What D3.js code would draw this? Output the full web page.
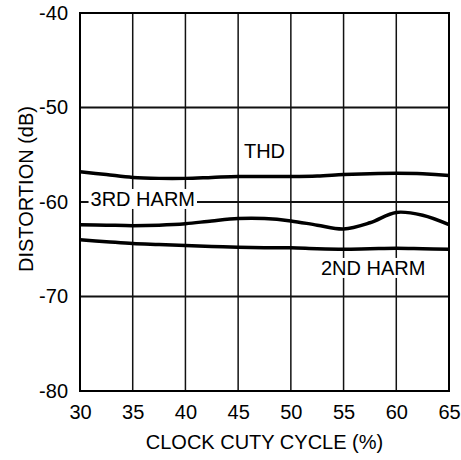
<!DOCTYPE html>
<html><head><meta charset="utf-8">
<script src="https://cdn.jsdelivr.net/npm/d3@7"></script>
<style>body{margin:0;background:#fff}svg{display:block}text{font-family:"Liberation Sans",Arial,sans-serif;fill:#000}</style>
</head><body>
<svg id="c" width="461" height="460"></svg>
<script>
const dutyCycle = [30, 32.5, 35, 37.5, 40, 42.5, 45, 47.5, 50, 52.5, 55, 57.5, 60, 62.5, 65];
const thd = [-56.8, -57.1, -57.4, -57.5, -57.5, -57.4, -57.3, -57.3, -57.3, -57.25, -57.1, -57.0, -56.95, -57.0, -57.2];
const harm3 = [-62.4, -62.45, -62.5, -62.45, -62.3, -62.0, -61.75, -61.75, -62.0, -62.45, -62.85, -62.2, -61.1, -61.4, -62.4];
const harm2 = [-64.0, -64.2, -64.4, -64.5, -64.6, -64.7, -64.8, -64.85, -64.85, -64.95, -65.0, -64.95, -64.9, -64.95, -65.0];
const xTicks = [30, 35, 40, 45, 50, 55, 60, 65];
const yTicks = [-40, -50, -60, -70, -80];
const labels = [
  {text: "THD", x: 45.55, y: -55.35},
  {text: "3RD HARM", x: 31.0, y: -60.42},
  {text: "2ND HARM", x: 52.85, y: -67.72}
];
const xTitle = "CLOCK CUTY CYCLE (%)";
const yTitle = "DISTORTION (dB)";

const svg = d3.select("#c");
const L = 80, R = 449, T = 13, B = 391;
const x = d3.scaleLinear().domain([30, 65]).range([L, R]);
const y = d3.scaleLinear().domain([-80, -40]).range([B, T]);

// grid
svg.append("g").selectAll("line").data(xTicks).join("line")
  .attr("x1", d => x(d)).attr("x2", d => x(d)).attr("y1", T).attr("y2", B)
  .attr("stroke", "#111").attr("stroke-width", 1.5);
svg.append("g").selectAll("line").data(yTicks).join("line")
  .attr("y1", d => y(d)).attr("y2", d => y(d)).attr("x1", L).attr("x2", R)
  .attr("stroke", "#111").attr("stroke-width", 1.8);
svg.append("rect").attr("x", L).attr("y", T).attr("width", R - L).attr("height", B - T)
  .attr("fill", "none").attr("stroke", "#000").attr("stroke-width", 2);

// axis tick labels via d3 axes
const xAxis = svg.append("g").attr("transform", `translate(0,${B})`)
  .call(d3.axisBottom(x).tickValues(xTicks).tickSize(0).tickPadding(14).tickFormat(d3.format("d")));
const yAxis = svg.append("g").attr("transform", `translate(${L},0)`)
  .call(d3.axisLeft(y).tickValues(yTicks).tickSize(0).tickPadding(12).tickFormat(d => d3.format("d")(d).replace("\u2212", "-")));
[xAxis, yAxis].forEach(g => {
  g.select(".domain").remove();
  g.selectAll("text").attr("font-size", 20).attr("font-family", '"Liberation Sans",Arial,sans-serif').attr("fill", "#000");
});

// labels with white boxes
const lg = svg.append("g");
labels.forEach(l => {
  const t = lg.append("text").attr("x", x(l.x)).attr("y", y(l.y)).attr("font-size", 20).text(l.text);
  const bb = t.node().getBBox();
  lg.insert("rect", "text").attr("x", bb.x - 2).attr("y", bb.y + 1).attr("width", bb.width + 4).attr("height", bb.height - 2).attr("fill", "#fff");
});

// curves
const line = d3.line().x((d, i) => x(dutyCycle[i])).y(d => y(d)).curve(d3.curveCatmullRom.alpha(0.5));
[thd, harm3, harm2].forEach(s => {
  svg.append("path").attr("d", line(s)).attr("fill", "none").attr("stroke", "#000").attr("stroke-width", 3.5);
});

// titles
svg.append("text").attr("x", (L + R) / 2).attr("y", 449).attr("text-anchor", "middle").attr("font-size", 20).text(xTitle);
svg.append("text").attr("transform", "translate(33,189) rotate(-90)").attr("text-anchor", "middle").attr("font-size", 20).text(yTitle);
</script>
</body></html>
